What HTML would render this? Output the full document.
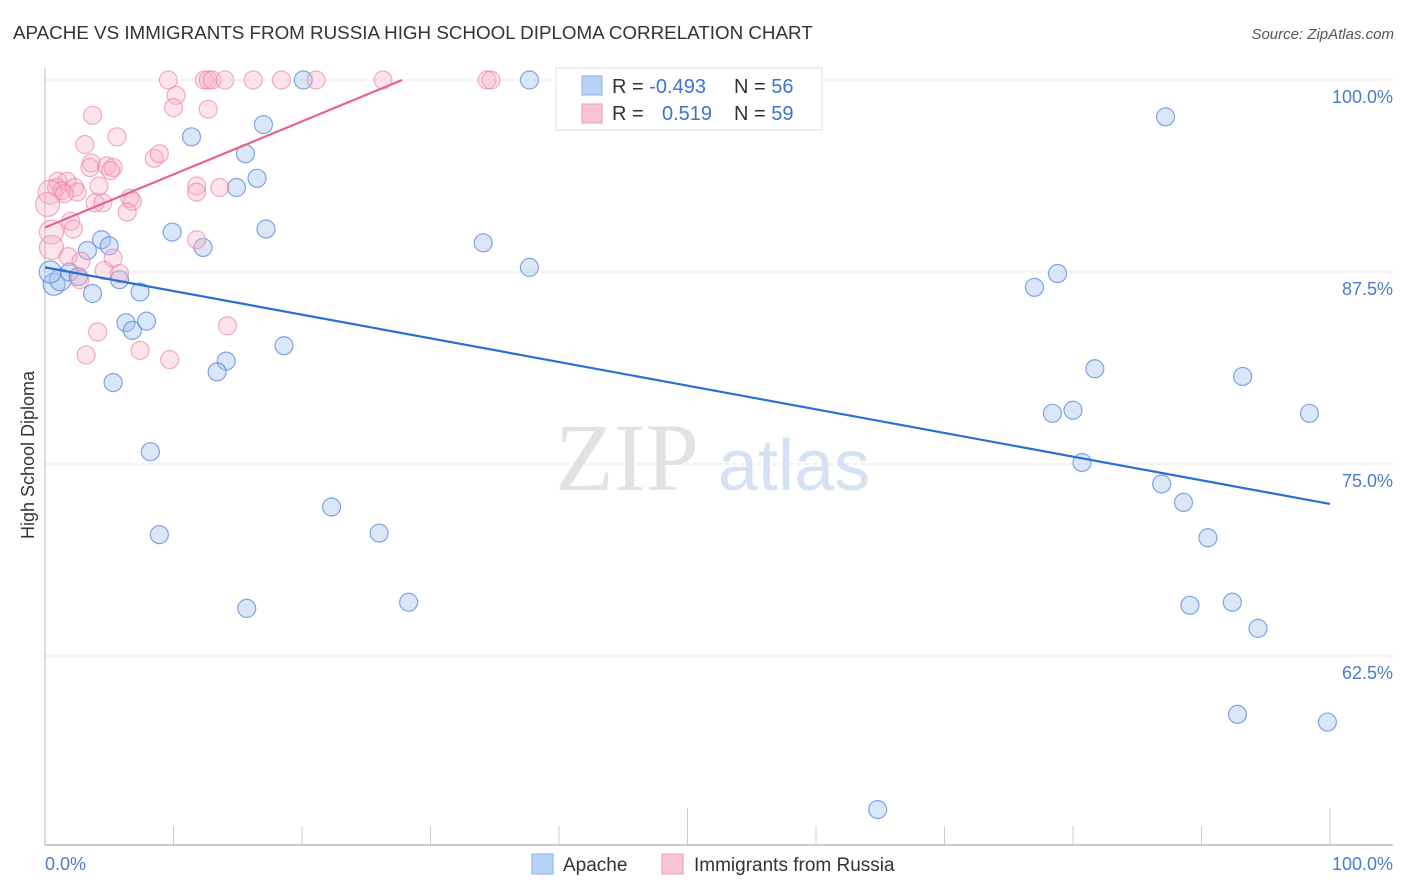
<!DOCTYPE html>
<html><head><meta charset="utf-8">
<style>
body{margin:0;background:#fff;font-family:"Liberation Sans",sans-serif;}
#wrap{position:relative;width:1406px;height:892px;overflow:hidden;}
</style></head>
<body>
<div id="wrap">
<svg id="svg" width="1406" height="892" xmlns="http://www.w3.org/2000/svg">
<text x="13" y="39" font-size="18.8" fill="#333">APACHE VS IMMIGRANTS FROM RUSSIA HIGH SCHOOL DIPLOMA CORRELATION CHART</text>
<text x="1394" y="39" font-size="15" fill="#555" font-style="italic" text-anchor="end">Source: ZipAtlas.com</text>
<text x="555" y="490" font-size="96" fill="#e2e2e2" font-family="Liberation Serif,serif">ZIP</text>
<text x="718" y="490" font-size="72" fill="#d6e2f3">atlas</text>
<text transform="translate(34,455) rotate(-90)" font-size="18" fill="#333" text-anchor="middle">High School Diploma</text>
<g id="grid"></g><g id="pts"></g><g id="lines"></g>
<g>
<rect x="556" y="68" width="266" height="62" fill="#fff" stroke="#ddd"/>
<rect x="582" y="76" width="20" height="19" fill="#b8d3f5" stroke="#8ab0e6"/>
<rect x="582" y="104" width="20" height="19" fill="#f9c5d5" stroke="#ee9ab4"/>
<text x="612" y="93" font-size="20" fill="#333">R = <tspan fill="#3f73d0">-0.493</tspan></text>
<text x="734" y="93" font-size="20" fill="#333">N = <tspan fill="#3f73d0">56</tspan></text>
<text x="612" y="120" font-size="20" fill="#333">R = <tspan fill="#3f73d0" x="662">0.519</tspan></text>
<text x="734" y="120" font-size="20" fill="#333">N = <tspan fill="#3f73d0">59</tspan></text>
</g>
<text x="45" y="870" font-size="18" fill="#4a7bd0">0.0%</text>
<text x="1393" y="870" font-size="18" fill="#4a7bd0" text-anchor="end">100.0%</text>
<rect x="532" y="854" width="21" height="20" fill="#b8d3f5" stroke="#8ab0e6"/>
<text x="563" y="871" font-size="19" fill="#333">Apache</text>
<rect x="662" y="854" width="21" height="20" fill="#f9c5d5" stroke="#ee9ab4"/>
<text x="694" y="871" font-size="19" fill="#333">Immigrants from Russia</text>
</svg>
</div>
<script>
const yTicks=[100,87.5,75,62.5];
const yTickLabels=["100.0%","87.5%","75.0%","62.5%"];
const blueX=[20.1,37.7,42.7,87.2,11.4,17.0,15.6,16.5,14.9,9.9,17.2,12.3,34.1,3.3,4.4,5.0,37.7,78.8,77.0,0.7,1.2,0.4,1.9,2.6,3.7,5.8,7.4,6.3,6.8,7.9,18.6,14.1,13.4,5.3,81.7,93.2,80.0,78.4,98.4,8.2,80.7,86.9,88.6,22.3,90.5,8.9,26.0,28.3,15.7,89.1,92.4,94.4,92.8,99.8,64.8];
const blueY=[100,100,100,97.6,96.3,97.1,95.2,93.6,93.0,90.1,90.3,89.1,89.4,88.9,89.6,89.2,87.8,87.4,86.5,86.7,87.0,87.5,87.5,87.2,86.1,87.0,86.2,84.2,83.7,84.3,82.7,81.7,81.0,80.3,81.2,80.7,78.5,78.3,78.3,75.8,75.1,73.7,72.5,72.2,70.2,70.4,70.5,66.0,65.6,65.8,66.0,64.3,58.7,58.2,52.5];
const pinkX=[9.6,12.4,12.7,13.0,14.0,16.2,18.4,21.1,26.3,34.4,34.7,10.2,10.0,12.7,3.7,3.1,5.6,8.5,8.9,3.6,3.5,4.8,5.3,5.1,1.0,1.7,0.9,1.3,2.3,2.5,0.4,1.5,4.2,11.8,13.6,11.8,0.2,3.9,4.5,6.6,6.8,6.4,2.0,2.2,0.5,0.5,1.8,2.8,5.3,4.6,5.8,2.7,11.8,14.2,4.1,7.4,3.2,9.7];
const pinkY=[100,100,100,100,100,100,100,100,100,100,100,99.0,98.2,98.1,97.7,95.8,96.3,94.9,95.2,94.6,94.3,94.4,94.3,94.1,93.4,93.4,93.0,92.8,93.0,92.7,92.7,92.6,93.1,93.1,93.0,92.7,91.9,92.0,92.0,92.3,92.1,91.4,90.8,90.3,90.1,89.1,88.5,88.2,88.4,87.6,87.4,87.0,89.6,84.0,83.6,82.4,82.1,81.8];
const blueTrend=[[0,87.8],[100,72.4]];
const pinkTrend=[[0,90.4],[27.8,100]];
const NS="http://www.w3.org/2000/svg";
const X=v=>45+v*12.85, Y=v=>80+(100-v)*15.36;
function mk(t,a,p){const e=document.createElementNS(NS,t);for(const k in a)e.setAttribute(k,a[k]);p.appendChild(e);return e;}
const grid=document.getElementById('grid');
yTicks.forEach((t,i)=>{
 const l=mk('line',{x1:45,x2:1393,y1:Y(t),y2:Y(t),stroke:'#ddd','stroke-dasharray':'4,4'},grid);
 
 
 const tx=mk('text',{x:1393,y:Y(t)+23,'font-size':18,fill:'#4a7bd0','text-anchor':'end'},grid);
 tx.textContent=yTickLabels[i];
 
 
});
const ax=mk('line',{x1:45,x2:45,y1:68,y2:845,stroke:'#bbb'},grid);


const bx=mk('line',{x1:45,x2:1393,y1:845,y2:845,stroke:'#bbb','stroke-width':1.5},grid);


for(let i=1;i<=10;i++){
 const tk=mk('line',{x1:X(i*10),x2:X(i*10),y1:(i==5||i==10)?808:826,y2:845,stroke:'#ccc'},grid);
 
 
}
const pts=document.getElementById('pts');
blueX.forEach((x,i)=>{
 const c=mk('circle',{cx:X(x),cy:Y(blueY[i]),r:x<1.5?11:9,fill:'rgba(160,195,240,0.4)',stroke:'rgba(80,130,215,0.7)','stroke-width':1.2},pts);
 
 
});
pinkX.forEach((x,i)=>{
 const c=mk('circle',{cx:X(x),cy:Y(pinkY[i]),r:x<0.6?12:9,fill:'rgba(245,175,200,0.35)',stroke:'rgba(235,130,165,0.65)','stroke-width':1.2},pts);
 
 
});
const lines=document.getElementById('lines');
const bl=mk('line',{x1:X(blueTrend[0][0]),y1:Y(blueTrend[0][1]),x2:X(blueTrend[1][0]),y2:Y(blueTrend[1][1]),stroke:'#2a6fd6','stroke-width':2.2},lines);


const pl=mk('line',{x1:X(pinkTrend[0][0]),y1:Y(pinkTrend[0][1]),x2:X(pinkTrend[1][0]),y2:Y(pinkTrend[1][1]),stroke:'#e8628f','stroke-width':2.2},lines);


</script>
</body></html>
